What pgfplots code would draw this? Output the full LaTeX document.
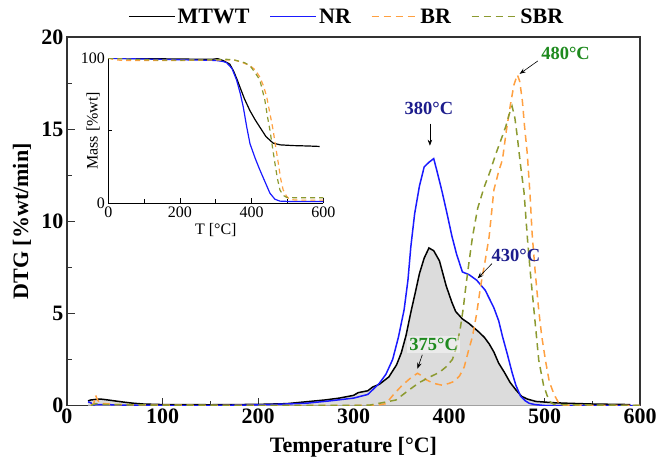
\documentclass[border=0pt]{standalone}
\usepackage{fontspec}
\setmainfont{Liberation Serif}
\usepackage{pgfplots}
\pgfplotsset{compat=1.18}
\usetikzlibrary{arrows.meta}
\definecolor{nrblue}{HTML}{1A1AFF}
\definecolor{brorange}{HTML}{FFA040}
\definecolor{sbrolive}{HTML}{8C9A30}
\definecolor{navylab}{HTML}{1C1C8C}
\definecolor{greenlab}{HTML}{1E8A1E}
\definecolor{fillgray}{HTML}{DCDCDC}
\definecolor{axgray}{HTML}{333333}
\begin{document}
\begin{tikzpicture}
\begin{axis}[
  name=main,
  width=573pt, height=368.5pt, scale only axis,
  xmin=0, xmax=600, ymin=0, ymax=20,
  xtick={0,100,...,600}, minor x tick num=1,
  ytick={0,5,...,20}, minor y tick num=1,
  tick align=inside, xtick pos=bottom, ytick pos=left,
  major tick length=8pt, minor tick length=5pt,
  axis line style={axgray, line width=1.2pt},
  every tick/.style={axgray, line width=1pt},
  /pgf/number format/assume math mode=true,
  tick label style={font=\bfseries\fontsize{22}{26}\selectfont},
  label style={font=\bfseries\fontsize{22}{26}\selectfont},
  xlabel={Temperature [°C]},
  ylabel={DTG [\%wt/min]},
  xlabel style={at={(axis description cs:0.5,-0.1126)}, anchor=center},
  ylabel style={at={(axis description cs:-0.0785,0.5)}, anchor=center},
  legend style={draw=none, fill=none, at={(0.488,1.055)}, anchor=center,
    font=\bfseries\fontsize{22}{26}\selectfont,
    /tikz/every even column/.append style={column sep=18pt}},
  legend columns=4,
  legend image code/.code={\draw[#1] (0pt,0pt) -- (46pt,0pt);},
]
\addplot[fill=fillgray, draw=none, forget plot] coordinates {
(22,0.25)(25,0.3)(30,0.33)(35,0.35)(40,0.32)(50,0.25)(60,0.18)(70,0.12)(80,0.08)(100,0.05)(150,0.04)(200,0.06)(230,0.1)(250,0.2)(270,0.3)(285,0.4)(300,0.55)(305,0.7)(310,0.75)(315,0.8)(320,1.0)(327,1.15)(337,1.55)(345,2.2)(350,2.85)(355,3.8)(360,5.05)(365,6.2)(369,7.15)(374,8.0)(379,8.55)(384,8.4)(390,7.85)(397,6.5)(403,5.6)(407,5.1)(414,4.7)(421,4.45)(431,4.0)(437,3.7)(442,3.35)(447,2.9)(452,2.3)(458,1.8)(464,1.25)(470,0.85)(476,0.5)(482,0.35)(491,0.22)(510,0.15)(525,0.12)(550,0.08)(590,0.05)} \closedcycle;
\addplot[black, line width=1.5pt] coordinates {
(22,0.25)(25,0.3)(30,0.33)(35,0.35)(40,0.32)(50,0.25)(60,0.18)(70,0.12)(80,0.08)(100,0.05)(150,0.04)(200,0.06)(230,0.1)(250,0.2)(270,0.3)(285,0.4)(300,0.55)(305,0.7)(310,0.75)(315,0.8)(320,1.0)(327,1.15)(337,1.55)(345,2.2)(350,2.85)(355,3.8)(360,5.05)(365,6.2)(369,7.15)(374,8.0)(379,8.55)(384,8.4)(390,7.85)(397,6.5)(403,5.6)(407,5.1)(414,4.7)(421,4.45)(431,4.0)(437,3.7)(442,3.35)(447,2.9)(452,2.3)(458,1.8)(464,1.25)(470,0.85)(476,0.5)(482,0.35)(491,0.22)(510,0.15)(525,0.12)(550,0.08)(590,0.05)};
\addlegendentry{MTWT}
\addplot[nrblue, line width=1.5pt] coordinates {
(22,0.2)(25,0.15)(27,0.0)(30,0.05)(40,0.05)(60,0.02)(100,0.0)(150,0.0)(200,0.03)(250,0.12)(275,0.25)(300,0.4)(315,0.6)(327,1.2)(334,1.7)(341,2.5)(347,3.7)(353,5.2)(357,6.8)(360,8.6)(364,10.4)(369,11.9)(374,12.95)(379,13.2)(384,13.4)(388,12.6)(393,11.55)(398,10.4)(403,9.2)(408,8.2)(414,7.25)(421,7.1)(429,6.8)(438,6.25)(447,5.3)(452,4.6)(456,3.75)(461,2.8)(466,1.8)(470,1.1)(475,0.5)(480,0.25)(484,0.12)(490,0.05)(500,0.0)(600,0.0)};
\addlegendentry{NR}
\addplot[brorange, line width=1.5pt, dash pattern=on 7pt off 5pt] coordinates {
(25,0.0)(28,0.1)(30,0.55)(32,0.3)(35,0.1)(40,0.1)(50,0.05)(100,0.02)(200,0.0)(300,0.0)(325,0.02)(334,0.1)(342,0.6)(351,1.1)(360,1.5)(367,1.75)(372,1.6)(376,1.4)(384,1.2)(393,1.1)(400,1.2)(405,1.3)(411,1.6)(416,2.1)(420,2.9)(424.6,3.75)(429,5.0)(433,6.45)(438,7.9)(442,9.15)(447,11.7)(452,12.7)(456,13.35)(460,14.9)(464.7,16.45)(468,17.4)(471.6,17.95)(474,17.6)(476.8,16.55)(479,15.2)(482,13.65)(485,11.3)(487,9.35)(490,7.4)(494,5.15)(497,3.8)(501,2.45)(505,1.3)(510,0.6)(515,0.12)(520,0.02)(600,0.0)};
\addlegendentry{BR}
\addplot[sbrolive, line width=1.5pt, dash pattern=on 7pt off 5pt] coordinates {
(25,0)(30,0.1)(40,0.05)(100,0.02)(300,0.0)(317,0.02)(330,0.15)(344.5,0.3)(357,0.8)(369,1.25)(380,1.55)(390,1.8)(397,2.1)(403.6,2.5)(408,3.2)(412,4.25)(415,5.3)(417.6,6.45)(421,7.8)(424.6,9.15)(430,10.7)(436.8,11.85)(443,12.7)(449,13.65)(455,14.5)(459.5,15.15)(463,15.8)(466,16.25)(469,15.6)(471.6,14.55)(475,13.0)(478.6,11.55)(482,9.15)(485,7.3)(489,5.15)(494,2.45)(499,1.1)(504.7,0.25)(510,0.05)(600,0)};
\addlegendentry{SBR}
% annotations
\node[navylab, font=\bfseries\fontsize{18.5}{22}\selectfont] at (axis cs:379,16.1) {380°C};
\draw[-{Stealth[length=6pt]}, black, line width=0.6pt] (axis cs:380,15.3) -- (axis cs:380,14.1);
\node[navylab, font=\bfseries\fontsize{18.5}{22}\selectfont] at (axis cs:470,8.15) {430°C};
\draw[-{Stealth[length=6pt]}, black, line width=0.6pt] (axis cs:445,7.7) -- (axis cs:430,6.9);
\node[greenlab, font=\bfseries\fontsize{18.5}{22}\selectfont] at (axis cs:522,19.1) {480°C};
\draw[-{Stealth[length=6pt]}, black, line width=0.6pt] (axis cs:493,18.7) -- (axis cs:474,18.0);
\node[greenlab, font=\bfseries\fontsize{18.5}{22}\selectfont, fill=white, fill opacity=0.45, text opacity=1, inner sep=2pt] at (axis cs:384,3.3) {375°C};
\draw[-{Stealth[length=6pt]}, black, line width=0.6pt] (axis cs:372,2.75) -- (axis cs:367,2.0);
\end{axis}
\begin{axis}[
  at={(41.3pt,202.2pt)}, anchor=south west,
  width=215pt, height=145pt, scale only axis,
  xmin=0, xmax=600, ymin=0, ymax=100,
  axis x line*=bottom, axis y line*=left,
  xtick={0,200,400,600}, minor xtick={100,300,500},
  ytick={0,100}, minor ytick={50},
  tick align=inside,
  major tick length=5pt, minor tick length=4pt,
  axis line style={black, line width=1pt},
  every tick/.style={black, line width=0.8pt},
  /pgf/number format/assume math mode=true,
  tick label style={font=\fontsize{16}{18}\selectfont},
  label style={font=\fontsize{16}{18}\selectfont},
  xlabel={T [°C]},
  ylabel={Mass [\%wt]},
  xlabel style={at={(axis description cs:0.5,-0.186)}, anchor=center},
  ylabel style={at={(axis description cs:-0.07,0.5)}, anchor=center},
]
\addplot[black, line width=1.2pt] coordinates {
(0,100)(100,99.8)(200,99.5)(290,99.3)(305,99.8)(320,98.5)(339,96)(350,91)(360,85)(367.6,80)(380,72)(395,64)(410,57.5)(423,52.5)(440,46)(460,41.5)(480,40.3)(516,39.8)(560,39.5)(590,39.2)};
\addplot[nrblue, line width=1.2pt] coordinates {
(0,100)(100,99.5)(200,99)(300,98.5)(320,97.8)(330,97)(345,93)(358,85)(368,76)(377,66)(386,53)(395.5,41)(410,31)(423,23)(437,15)(451,7)(465,2.8)(479,1.5)(500,1.3)(600,1.2)};
\addplot[brorange, line width=1.2pt, dash pattern=on 5pt off 4pt] coordinates {
(0,100)(20,99)(40,98.5)(100,98.5)(200,98.5)(300,98.8)(350,98.8)(370,97.5)(395,95)(410,92)(423,87)(433,81)(442,73.5)(451,62)(460,50.5)(467,39)(474.5,27.6)(481,17)(488,9.2)(497,5)(507,2.5)(530,2.2)(600,2.2)};
\addplot[sbrolive, line width=1.2pt, dash pattern=on 5pt off 4pt] coordinates {
(0,100)(100,99)(200,98.7)(300,99)(330,99.3)(350,99)(380,97)(395,95)(410,90)(423,85)(430,78)(437,71)(444,60)(451,50.5)(458,39)(465,27.6)(472,17)(479,9.2)(488,5.5)(498,4)(530,3.8)(600,3.8)};
\end{axis}
\pgfresetboundingbox
\path ([xshift=-67pt,yshift=-56.5pt]main.south west) rectangle ([xshift=18pt,yshift=37pt]main.north east);
\end{tikzpicture}
\end{document}
